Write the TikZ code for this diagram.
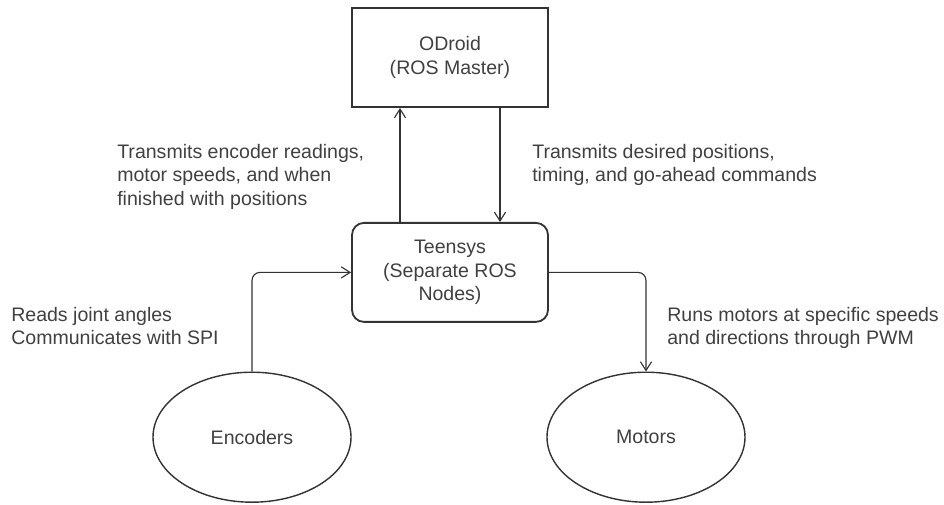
\documentclass[tikz,border=0pt]{standalone}
\usepackage{fontspec}
\setmainfont{Liberation Sans}
\usepackage{tikz}
\usetikzlibrary{positioning,arrows.meta,calc,shapes.geometric}
\definecolor{ln}{HTML}{333333}
\definecolor{txt}{HTML}{404040}
\newcommand{\lbl}{\fontsize{13.9}{16.7}\selectfont}
\tikzset{
  box/.style={draw=ln,line width=1.3pt,minimum width=4.9cm,minimum height=2.475cm,inner sep=2pt,align=center,font=\lbl,text=txt},
  oval/.style={ellipse,draw=ln,line width=1pt,minimum width=4.95cm,minimum height=3.25cm,inner sep=0pt,font=\lbl,text=txt},
  note/.style={font=\lbl,text=txt,align=left,inner sep=0pt},
  arr/.style={-{Straight Barb[length=2.2mm,width=2.8mm]},line width=0.8pt,ln},
}

\begin{document}
\begin{tikzpicture}
\useasboundingbox (0,0) rectangle (23.6,-12.6);
\node[box] (odr) at (11.25,-1.44) {ODroid\\(ROS Master)};
\node[box,rounded corners=0.3cm] (tee) at (11.25,-6.81) {Teensys\\(Separate ROS\\Nodes)};
\node[oval] (enc) at (6.3,-10.93) {Encoders};
\node[oval] (mot) at (16.15,-10.93) {Motors};
\draw[arr] ($(tee.north)+(-1.25,0)$) -- ($(odr.south)+(-1.25,0)$);
\draw[arr] ($(odr.south)+(1.25,0)$) -- ($(tee.north)+(1.25,0)$);
\draw[arr,rounded corners=0.2cm] (enc.north) |- (tee.west);
\draw[arr,rounded corners=0.2cm] (tee.east) -| (mot.north);
\node[note,anchor=north west] (up) at (2.925,-3.6) {Transmits encoder readings,\\motor speeds, and when\\finished with positions};
\node[note,anchor=north west] (down) at (13.3,-3.6) {Transmits desired positions,\\timing, and go-ahead commands};
\node[note,anchor=north west] (read) at (0.275,-7.675) {Reads joint angles\\Communicates with SPI};
\node[note,anchor=north west] (run) at (16.675,-7.675) {Runs motors at specific speeds\\and directions through PWM};
\end{tikzpicture}
\end{document}
